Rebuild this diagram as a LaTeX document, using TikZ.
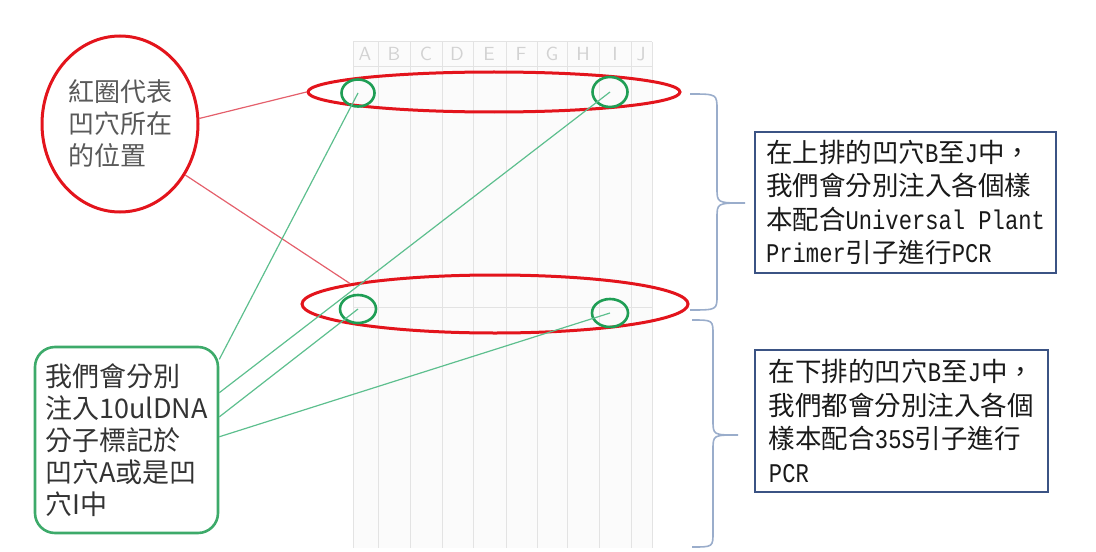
\documentclass[tikz,border=0pt]{standalone}
\usepackage{fontspec}
\setmainfont{Noto Sans CJK TC}
\newfontfamily\monolat[FakeStretch=0.82]{Liberation Mono}
\usepackage{tikz}
\usetikzlibrary{positioning,shapes.geometric,calc}
\definecolor{ringred}{HTML}{E3141C}
\definecolor{wellgreen}{HTML}{1F9E55}
\definecolor{boxgreen}{HTML}{3DAA6A}
\definecolor{linkgreen}{HTML}{5DBF8E}
\definecolor{linkred}{HTML}{E4606C}
\definecolor{notenavy}{HTML}{3B5384}
\definecolor{bracegray}{HTML}{9AADCB}
\newcommand{\lat}[1]{{\monolat\fontsize{13.5}{16.75}\selectfont #1}}

\begin{document}
\begin{tikzpicture}[x=0.5pt, y=-0.5pt,
  redring/.style={ellipse, draw=ringred, line width=1.5pt, inner sep=0pt},
  wellring/.style={ellipse, draw=wellgreen, line width=1.3pt, inner sep=0pt,
                   minimum width=17.5pt, minimum height=14pt},
  notebox/.style={draw=notenavy, line width=1.4pt, align=left, inner sep=0pt,
                  font=\fontsize{13.25}{16.75}\selectfont, text=black!90},
  redlink/.style={draw=linkred, line width=0.6pt},
  greenlink/.style={draw=linkgreen, line width=0.6pt},
  gelline/.style={draw=gray!22, line width=0.5pt},
  bracket/.style={draw=bracegray, line width=0.8pt}
]
  \useasboundingbox (0,0) rectangle (1096,551);

  % the gel with its wells A to J
  \fill[gray!3] (353,42) rectangle (652,548);
  \foreach \x in {353,378,410,442,473,506,537,567,599,631,652}
    \draw[gelline] (\x,42) -- (\x,548);
  \draw[gelline] (353,42) -- (652,42) (353,67) -- (652,67) (353,307) -- (652,307);
  \foreach \x/\l in {365/A,394/B,426/C,457/D,489/E,521/F,552/G,583/H,615/I,641/J}
    \node[text=gray!35, font=\fontsize{9.5}{10}\sffamily] (col\l) at (\x,54) {\l};

  % rows and wells
  \node[redring, minimum width=186pt, minimum height=20pt] (toprow) at (494,92) {};
  \node[redring, minimum width=193pt, minimum height=29pt] (botrow) at (495,304) {};
  \node[wellring, minimum width=16.5pt, minimum height=13.5pt] (wellA1) at (358,93) {};
  \node[wellring, minimum width=17.5pt, minimum height=15pt] (wellI1) at (610,92) {};
  \node[wellring, minimum width=18pt] (wellA2) at (358,309) {};
  \node[wellring, minimum width=18pt] (wellI2) at (610,313) {};

  % left side notes
  \node[redring, minimum width=78pt, minimum height=88pt, align=left,
        font=\fontsize{13}{16}\selectfont, text=black!65] (legend) at (120,124)
    {紅圈代表\\凹穴所在\\的位置};
  \node[draw=boxgreen, line width=1.3pt, rounded corners=10pt,
        minimum width=91.5pt, minimum height=93pt, align=left, inner sep=0pt,
        font=\fontsize{13.5}{16}\selectfont, text=black!80] (marker) at (126.5,440)
    {我們會分別\\注入10ulDNA\\分子標記於\\凹穴A或是凹\\穴I中};

  % right side notes
  \node[notebox, minimum width=150.5pt, minimum height=70.5pt] (upper) at (905.5,202.5)
    {在上排的凹穴\lat{B}至\lat{J}中，\\我們會分別注入各個樣\\本配合\lat{Universal Plant}\\\lat{Primer}引子進行\lat{PCR}};
  \node[notebox, minimum width=146.5pt, minimum height=71pt] (lower) at (901.5,421)
    {在下排的凹穴\lat{B}至\lat{J}中，\\我們都會分別注入各個\\樣本配合\lat{35S}引子進行\\\lat{PCR}};

  % braces
  \draw[bracket] (690,94) .. controls (717,94) .. (717,110) -- (717,188)
    .. controls (717,203) .. (745,203) .. controls (717,203) .. (717,218)
    -- (717,295) .. controls (717,310) .. (690,310);
  \draw[bracket] (692,320) .. controls (713,320) .. (713,335) -- (713,420)
    .. controls (713,435) .. (738,435) .. controls (713,435) .. (713,450)
    -- (713,532) .. controls (713,547) .. (692,547);

  % connectors
  \draw[redlink] (legend.4) -- (toprow.west);
  \draw[redlink] (legend.-38) -- (botrow.172);
  \draw[greenlink] (marker.41) -- (wellA1.center);
  \draw[greenlink] (marker.27) -- (wellI1.center);
  \draw[greenlink] (marker.14) -- (wellA2.center);
  \draw[greenlink] (marker.2) -- (wellI2.center);
\end{tikzpicture}
\end{document}
